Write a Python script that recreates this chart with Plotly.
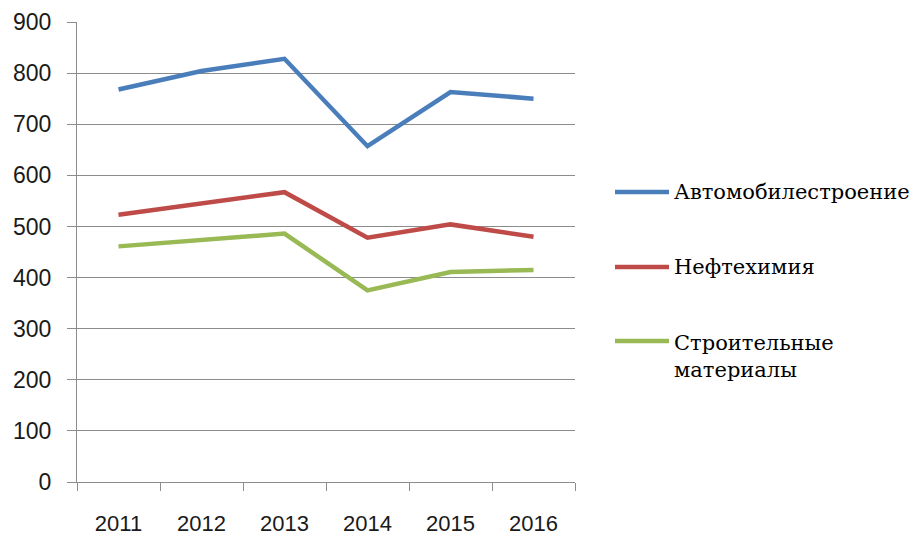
import plotly.graph_objects as go

years = ["2011", "2012", "2013", "2014", "2015", "2016"]
series_names = ["Автомобилестроение", "Нефтехимия", "Строительные<br>материалы"]
auto_values = [768, 804, 828, 657, 763, 750]
petro_values = [523, 545, 567, 478, 504, 480]
build_values = [461, 474, 486, 375, 411, 415]
y_ticks = [0, 100, 200, 300, 400, 500, 600, 700, 800, 900]

colors = ["#4A7EBB", "#BE4B48", "#98B954"]
all_values = [auto_values, petro_values, build_values]

OFF = 8  # page body margin
W, H = 922 - OFF, 536 - OFF
L, R, T, B = 77, 575, 22, 482  # plot area in screen pixels


def px_x(px):
    return (px - L) / (R - L)


def px_y(py):
    return (B - py) / (B - T)


fig = go.Figure()
for name, vals, col in zip(series_names, all_values, colors):
    fig.add_trace(go.Scatter(
        x=years, y=vals, mode="lines", name=name,
        line=dict(color=col, width=4.5), showlegend=False,
    ))

serif = "DejaVu Serif"
legend_y_px = [192, 267, 356]
for name, col, ly in zip(series_names, colors, legend_y_px):
    line_y = ly if "<br>" not in name else ly - 15
    fig.add_shape(type="line", xref="paper", yref="paper",
                  x0=px_x(615), x1=px_x(669), y0=px_y(line_y), y1=px_y(line_y),
                  line=dict(color=col, width=4.5))
    fig.add_annotation(xref="paper", yref="paper", x=px_x(672), y=px_y(ly),
                       xanchor="left", yanchor="middle", align="left",
                       text=name, showarrow=False,
                       font=dict(family=serif, size=21, color="#000000"))

grid_col = "#8C8C8C"
fig.update_xaxes(
    type="category", range=[-0.5, 5.5], tickson="boundaries",
    ticks="outside", ticklen=8, tickcolor=grid_col, tickwidth=1,
    showline=True, linecolor=grid_col, linewidth=1,
    showgrid=False, ticklabelstandoff=22, automargin=False,
    tickfont=dict(family="Liberation Sans", size=22, color="#1a1a1a"),
)
fig.update_yaxes(
    range=[0, 900], tickvals=y_ticks,
    ticks="outside", ticklen=9, tickcolor=grid_col, tickwidth=1,
    showline=True, linecolor=grid_col, linewidth=1,
    showgrid=True, gridcolor=grid_col, gridwidth=1, zeroline=False,
    ticklabelstandoff=11, automargin=False,
    tickfont=dict(family="Liberation Sans", size=23, color="#1a1a1a"),
)
fig.update_layout(
    width=W, height=H,
    margin=dict(l=L - OFF, r=W - (R - OFF), t=T - OFF, b=H - (B - OFF)),
    paper_bgcolor="white", plot_bgcolor="white",
)
fig.write_html("out.html")
